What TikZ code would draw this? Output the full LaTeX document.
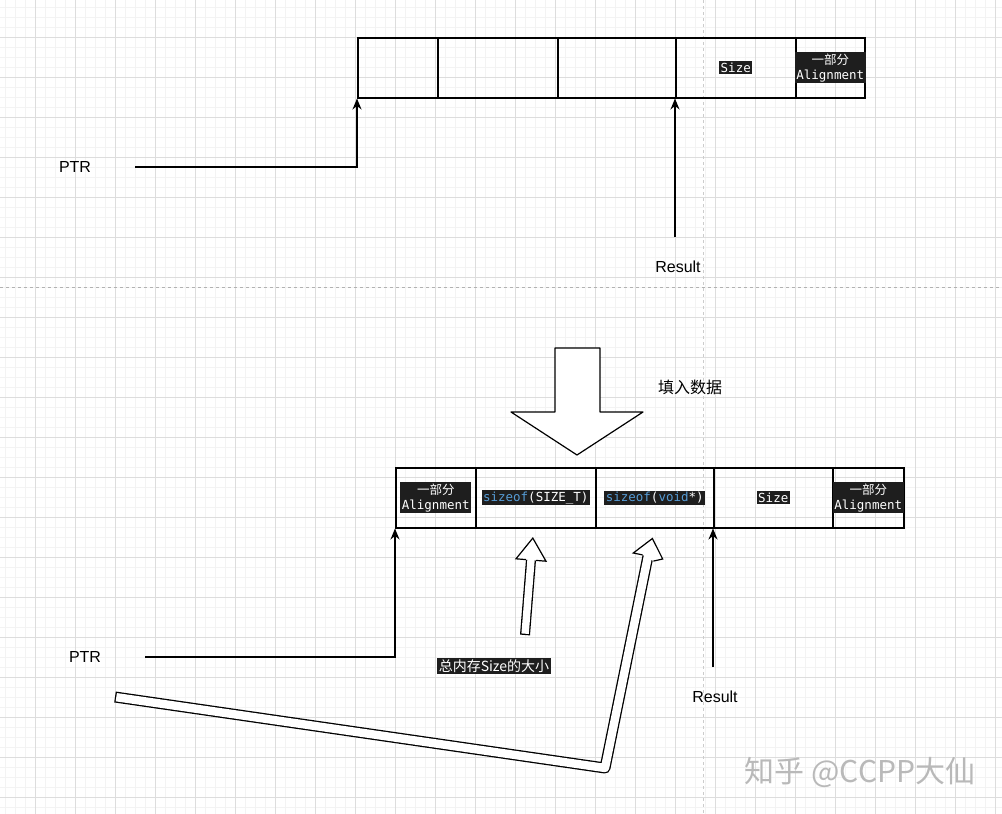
\documentclass[tikz,border=0pt]{standalone}
\usetikzlibrary{arrows.meta}
\usepackage{fontspec}
\setmainfont{Liberation Sans}
\newfontfamily\cjk{Noto Sans CJK SC}
\newfontfamily\mono{DejaVu Sans Mono}
\definecolor{codebg}{HTML}{1E1E1E}
\definecolor{kw}{HTML}{569CD6}
\definecolor{gridc}{HTML}{F3F3F3}
\definecolor{gridm}{HTML}{DDDDDD}
\begin{document}
\begin{tikzpicture}[x=1pt,y=-1pt,
  cell/.style={draw,line width=1.5pt,minimum height=60pt,inner sep=0pt,anchor=north west},
  code/.style={fill=codebg,text=white,font=\mono\fontsize{12.5}{15}\selectfont,inner sep=1.5pt,align=center},
  lbl/.style={font=\fontsize{16}{19}\selectfont},
  conn/.style={line width=1.3pt,-{Stealth[length=11pt,width=9pt]}},
  hollow/.style={line width=1.2pt,fill=white,line join=round}]
\useasboundingbox (0,0) rectangle (1002,814);
\fill[white] (0,0) rectangle (1002,814);
\foreach \i in {5,15,...,1000} \draw[gridc,line width=0.5pt] (\i,0) -- (\i,814);
\foreach \j in {7,17,...,810} \draw[gridc,line width=0.5pt] (0,\j) -- (1002,\j);
\foreach \i in {35,75,...,1000} \draw[gridm,line width=0.6pt] (\i,0) -- (\i,814);
\foreach \j in {37,77,...,810} \draw[gridm,line width=0.6pt] (0,\j) -- (1002,\j);
\draw[gray!60,dashed,line width=0.6pt] (0,287) -- (1002,287);
\draw[gray!40,dashed,line width=0.6pt] (703,0) -- (703,814);
% top row
\node[cell,minimum width=80pt] (t1) at (357,37) {};
\node[cell,minimum width=120pt] (t2) at (437,37) {};
\node[cell,minimum width=118pt] (t3) at (557,37) {};
\node[cell,minimum width=120pt] (t4) at (675,37) {};
\node[code] at (t4.center) {Size};
\node[cell,minimum width=69pt] (t5) at (795,37) {};
\node[code] at (t5.center) {{\cjk 一部分}\\Alignment};
\node[lbl] (ptr1) at (75,167) {PTR};
\node[lbl] (res1) at (678,267) {Result};
\coordinate (p1) at (135,167);
\coordinate (r1) at (675,237);
\draw[conn] (p1) -| (t1.south west);
\draw[conn] (r1) -- (t4.south west);
% big down arrow
\draw[hollow] (555,348) -- (600,348) -- (600,412) -- (643,412) -- (577,455) -- (511,412) -- (555,412) -- cycle;
\node[lbl,font=\cjk\fontsize{16}{19}\selectfont] (fill) at (690,387) {填入数据};
% bottom row
\node[cell,minimum width=80pt] (b1) at (395,467) {};
\node[code] at (b1.center) {{\cjk 一部分}\\Alignment};
\node[cell,minimum width=120pt] (b2) at (475,467) {};
\node[code] at (b2.center) {\textcolor{kw}{sizeof}(SIZE\_T)};
\node[cell,minimum width=118pt] (b3) at (595,467) {};
\node[code] at (b3.center) {\textcolor{kw}{sizeof}(\textcolor{kw}{void}*)};
\node[cell,minimum width=119pt] (b4) at (713,467) {};
\node[code] at (b4.center) {Size};
\node[cell,minimum width=71pt] (b5) at (832,467) {};
\node[code] at (b5.center) {{\cjk 一部分}\\Alignment};
\node[lbl] (ptr2) at (85,657) {PTR};
\node[lbl] (res2) at (715,697) {Result};
\coordinate (p2) at (145,657);
\coordinate (r2) at (713,667);
\draw[conn] (p2) -| (b1.south west);
\draw[conn] (r2) -- (b4.south west);
\node[code,font=\cjk\fontsize{14}{16}\selectfont] (tot) at (494,666) {总内存Size的大小};
% small hollow arrow
\draw[line width=10pt] (525,635) -- (531,560);
\draw[white,line width=7.4pt,shorten <=1.3pt] (525,635) -- (531,560);
\fill[white] (532.8,538.1) -- (546,561.2) -- (536,560.4) -- (526,559.6) -- (516,558.8) -- cycle;
\draw[line width=1.2pt,line join=miter] (536,560.4) -- (546,561.2) -- (532.8,538.1) -- (516,558.8) -- (526,559.6);
% long bent hollow arrow
\draw[line width=11pt,line join=round] (115,697) -- (605,768) -- (648,556);
\draw[white,line width=8.4pt,line join=round,shorten <=1.3pt] (115,697) -- (605,768) -- (648,556);
\fill[white] (652.4,538.5) -- (662.7,559.0) -- (653.4,561.1) -- (642.6,554.9) -- (633.3,553.0) -- cycle;
\draw[line width=1.2pt,line join=miter] (653.4,561.1) -- (662.7,559.0) -- (652.4,538.5) -- (633.3,553.0) -- (642.6,554.9);
% watermark
\node[text=gray!55,font=\cjk\fontsize{30}{34}\selectfont] (wm) at (860,772) {知乎 @CCPP大仙};
\end{tikzpicture}
\end{document}
